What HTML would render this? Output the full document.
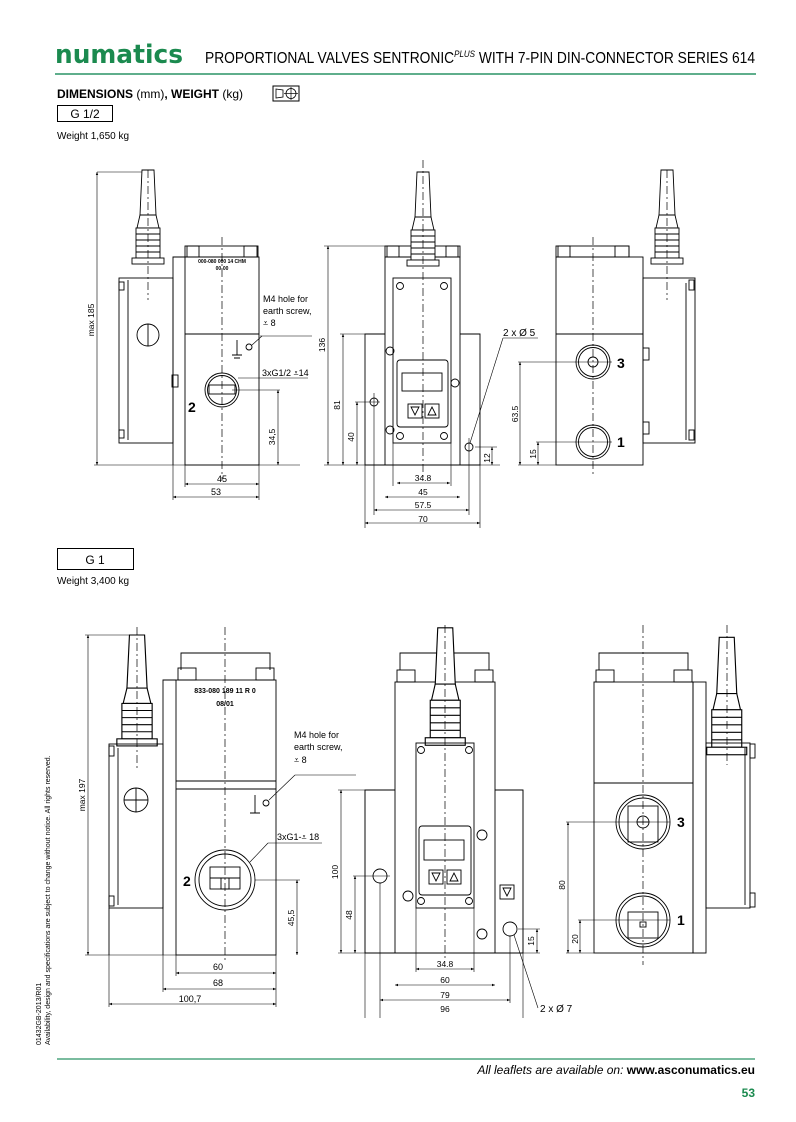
<!DOCTYPE html>
<html><head><meta charset="utf-8"><style>
html,body{margin:0;padding:0;background:#fff}
svg{display:block}
text{font-family:"Liberation Sans",sans-serif}
</style></head><body>
<svg width="796" height="1122" viewBox="0 0 796 1122" xmlns="http://www.w3.org/2000/svg">
<defs>
<marker id="a" markerWidth="6" markerHeight="6" refX="5" refY="3" orient="auto-start-reverse"><path d="M0,1 L5,3 L0,5 z" fill="#000"/></marker>
<g id="conn" fill="#fff" stroke="#000" stroke-width="0.9">
<path d="M-6,0 L6,0 L8,45 L-8,45 z"/>
<path d="M-8,45 L8,45 L11,58 L-11,58 z"/>
<rect x="-12" y="58" width="24" height="30"/>
<line x1="-12" y1="64" x2="12" y2="64"/><line x1="-12" y1="70" x2="12" y2="70"/><line x1="-12" y1="76" x2="12" y2="76"/><line x1="-12" y1="82" x2="12" y2="82"/>
<rect x="-16" y="88" width="32" height="6"/>
</g>
</defs>
<rect width="796" height="1122" fill="#fff"/>
<!-- header -->
<text x="55" y="63" font-size="26" font-weight="bold" fill="#1b8a4f" style="font-family:'DejaVu Sans',sans-serif" textLength="128" lengthAdjust="spacingAndGlyphs">numatics</text>
<text x="205" y="63" font-size="15.5" fill="#000" textLength="550" lengthAdjust="spacingAndGlyphs">PROPORTIONAL VALVES SENTRONIC<tspan font-size="9" font-style="italic" dy="-6">PLUS</tspan><tspan dy="6"> WITH 7-PIN DIN-CONNECTOR SERIES 614</tspan></text>
<line x1="55" y1="74" x2="756" y2="74" stroke="#2a9466" stroke-width="1.5"/>
<text x="57" y="98" font-size="12"><tspan font-weight="bold">DIMENSIONS</tspan> (mm)<tspan font-weight="bold">, WEIGHT</tspan> (kg)</text>
<rect x="273" y="86" width="26" height="15" fill="none" stroke="#000"/>
<path d="M276,89 L283,90 L283,97 L276,98 z" fill="none" stroke="#000" stroke-width="0.8"/><circle cx="291" cy="93.5" r="5" fill="none" stroke="#000" stroke-width="0.8"/><line x1="284" y1="93.5" x2="298" y2="93.5" stroke="#000" stroke-width="0.7"/><line x1="291" y1="87" x2="291" y2="100" stroke="#000" stroke-width="0.7"/>
<rect x="57.5" y="105.5" width="55" height="16" fill="none" stroke="#000"/>
<text x="85" y="118" font-size="12" text-anchor="middle">G 1/2</text>
<text x="57" y="139" font-size="10">Weight 1,650 kg</text>

<g stroke="#000" fill="none" stroke-width="0.9">
<!-- TOP VIEW 1 -->
<use href="#conn" x="148" y="170"/>
<rect x="119" y="278" width="54" height="165"/><line x1="128" y1="280" x2="128" y2="440"/>
<rect x="119" y="282" width="5" height="8"/><rect x="119" y="430" width="5" height="8"/>
<circle cx="148" cy="335" r="11"/><line x1="148" y1="324" x2="148" y2="346"/>
<path d="M173,465 L173,257 L185,257"/>
<rect x="185" y="257" width="74" height="208"/><rect x="187" y="246" width="70" height="11"/>
<rect x="185" y="246" width="14" height="11"/><rect x="244" y="246" width="14" height="11"/>
<line x1="185" y1="334" x2="259" y2="334"/>
<rect x="172" y="375" width="6" height="12"/>
<circle cx="222" cy="390" r="17"/><circle cx="222" cy="390" r="14.5"/><rect x="209" y="385" width="26" height="9"/>
<circle cx="249" cy="347" r="3"/><path d="M237,340 L237,355 M232,355 L242,355 M234,358 L240,358"/>
<line x1="222" y1="237" x2="222" y2="480" stroke-dasharray="8,3,2,3" stroke-width="0.7"/>
<line x1="148" y1="170" x2="148" y2="300" stroke-dasharray="8,3,2,3" stroke-width="0.7"/>
<g stroke-width="0.6">
<line x1="97" y1="172" x2="142" y2="172"/><line x1="94" y1="465" x2="300" y2="465"/>
<line x1="97" y1="172" x2="97" y2="465" marker-start="url(#a)" marker-end="url(#a)"/>
<line x1="232" y1="390" x2="280" y2="390"/><line x1="278" y1="390" x2="278" y2="465" marker-start="url(#a)" marker-end="url(#a)"/>
<line x1="185" y1="465" x2="185" y2="487"/><line x1="259" y1="465" x2="259" y2="500"/><line x1="173" y1="465" x2="173" y2="500"/>
<line x1="185" y1="484" x2="259" y2="484" marker-start="url(#a)" marker-end="url(#a)"/>
<line x1="173" y1="497" x2="259" y2="497" marker-start="url(#a)" marker-end="url(#a)"/>
<line x1="238" y1="378" x2="260" y2="378"/><line x1="260" y1="378" x2="308" y2="378"/>
<line x1="252" y1="345" x2="262" y2="336"/><line x1="260" y1="336" x2="312" y2="336"/>
</g>
<!-- TOP VIEW 2 -->
<rect x="385" y="257" width="75" height="208"/><rect x="387" y="246" width="71" height="11"/>
<rect x="385" y="246" width="14" height="11"/><rect x="446" y="246" width="14" height="11"/>
<path d="M385,334 L365,334 L365,465 L480,465 L480,334 L460,334"/>
<use href="#conn" x="423" y="172"/>
<rect x="393" y="278" width="58" height="165"/>
<circle cx="400" cy="286" r="3.5"/><circle cx="444" cy="286" r="3.5"/><circle cx="400" cy="436" r="3.5"/><circle cx="444" cy="436" r="3.5"/>
<circle cx="390" cy="351" r="4"/><circle cx="390" cy="430" r="4"/><circle cx="455" cy="383" r="4"/>
<rect x="397" y="360" width="51" height="67" rx="3"/><rect x="402" y="373" width="40" height="18"/>
<rect x="408" y="404" width="14" height="14"/><rect x="425" y="404" width="14" height="14"/>
<path d="M411,407 L419,407 L415,415 z M428,415 L436,415 L432,407 z"/>
<circle cx="374" cy="402" r="4"/><circle cx="469" cy="447" r="4"/>
<line x1="423" y1="160" x2="423" y2="480" stroke-dasharray="8,3,2,3" stroke-width="0.7"/>
<g stroke-width="0.6">
<line x1="324" y1="246" x2="385" y2="246"/><line x1="324" y1="465" x2="500" y2="465"/>
<line x1="328" y1="246" x2="328" y2="465" marker-start="url(#a)" marker-end="url(#a)"/>
<line x1="340" y1="334" x2="365" y2="334"/><line x1="343" y1="334" x2="343" y2="465" marker-start="url(#a)" marker-end="url(#a)"/>
<line x1="355" y1="402" x2="380" y2="402"/><line x1="357" y1="402" x2="357" y2="465" marker-start="url(#a)" marker-end="url(#a)"/>
<line x1="374" y1="393" x2="374" y2="515"/><line x1="469" y1="438" x2="469" y2="515"/>
<line x1="393" y1="443" x2="393" y2="486"/><line x1="451" y1="443" x2="451" y2="486"/>
<line x1="365" y1="465" x2="365" y2="528"/><line x1="480" y1="465" x2="480" y2="528"/>
<line x1="397" y1="483" x2="450" y2="483" marker-start="url(#a)" marker-end="url(#a)"/>
<line x1="385" y1="497" x2="460" y2="497" marker-start="url(#a)" marker-end="url(#a)"/>
<line x1="374" y1="510" x2="469" y2="510" marker-start="url(#a)" marker-end="url(#a)"/>
<line x1="365" y1="523" x2="480" y2="523" marker-start="url(#a)" marker-end="url(#a)"/>
<line x1="475" y1="447" x2="497" y2="447"/><line x1="492" y1="447" x2="492" y2="465" marker-start="url(#a)" marker-end="url(#a)"/>
<line x1="470" y1="443" x2="503" y2="338"/><line x1="503" y1="338" x2="538" y2="338"/>
</g>
<!-- TOP VIEW 3 -->
<rect x="556" y="257" width="87" height="208"/><rect x="558" y="246" width="71" height="11"/>
<rect x="556" y="246" width="14" height="11"/><rect x="615" y="246" width="14" height="11"/>
<line x1="556" y1="334" x2="643" y2="334"/>
<use href="#conn" x="667" y="170"/>
<rect x="643" y="278" width="52" height="165"/><line x1="686" y1="283" x2="686" y2="440"/>
<rect x="689" y="280" width="5" height="10"/><rect x="689" y="430" width="5" height="10"/>
<rect x="643" y="348" width="6" height="12"/><rect x="643" y="422" width="6" height="12"/>
<circle cx="593" cy="362" r="17"/><circle cx="593" cy="362" r="14.5"/><circle cx="593" cy="362" r="5"/>
<circle cx="593" cy="442" r="17"/><circle cx="593" cy="442" r="14.5"/>
<line x1="593" y1="237" x2="593" y2="475" stroke-dasharray="8,3,2,3" stroke-width="0.7"/>
<line x1="667" y1="170" x2="667" y2="300" stroke-dasharray="8,3,2,3" stroke-width="0.7"/>
<g stroke-width="0.6">
<line x1="518" y1="362" x2="612" y2="362"/><line x1="518" y1="465" x2="556" y2="465"/>
<line x1="520" y1="362" x2="520" y2="465" marker-start="url(#a)" marker-end="url(#a)"/>
<line x1="536" y1="442" x2="612" y2="442"/><line x1="538" y1="442" x2="538" y2="465" marker-start="url(#a)" marker-end="url(#a)"/>
</g>

<!-- BOTTOM VIEW 1 -->
<use href="#conn" x="137" y="635" transform="translate(-35.6 -114.3) scale(1.26 1.18)" />
<rect x="109" y="744" width="54" height="164"/><line x1="118" y1="748" x2="118" y2="905"/>
<rect x="109" y="746" width="5" height="10"/><rect x="109" y="896" width="5" height="10"/>
<circle cx="136" cy="800" r="12"/><line x1="136" y1="788" x2="136" y2="812"/><line x1="124" y1="800" x2="148" y2="800"/>
<path d="M109,908 L109,955 M163,955 L163,680 L176,680"/>
<rect x="176" y="680" width="100" height="275"/>
<path d="M181,670 L181,653 L270,653 L270,670"/>
<rect x="178" y="668" width="18" height="12"/><rect x="256" y="668" width="18" height="12"/>
<line x1="176" y1="781" x2="276" y2="781"/><line x1="176" y1="789" x2="276" y2="789"/>
<circle cx="225" cy="880" r="30"/><circle cx="225" cy="880" r="26"/>
<rect x="210" y="867" width="30" height="22"/><line x1="210" y1="878" x2="240" y2="878"/><rect x="221" y="878" width="8" height="11"/>
<circle cx="266" cy="803" r="3"/><path d="M255,795 L255,813 M250,813 L260,813"/>
<line x1="225" y1="627" x2="225" y2="960" stroke-dasharray="8,3,2,3" stroke-width="0.7"/>
<line x1="137" y1="627" x2="137" y2="770" stroke-dasharray="8,3,2,3" stroke-width="0.7"/>
<g stroke-width="0.6">
<line x1="85" y1="635" x2="130" y2="635"/><line x1="85" y1="955" x2="176" y2="955"/>
<line x1="88" y1="635" x2="88" y2="955" marker-start="url(#a)" marker-end="url(#a)"/>
<line x1="255" y1="880" x2="300" y2="880"/><line x1="297" y1="880" x2="297" y2="955" marker-start="url(#a)" marker-end="url(#a)"/>
<line x1="276" y1="955" x2="276" y2="1007"/><line x1="176" y1="955" x2="176" y2="976"/><line x1="163" y1="955" x2="163" y2="992"/><line x1="109" y1="955" x2="109" y2="1007"/>
<line x1="176" y1="973" x2="276" y2="973" marker-start="url(#a)" marker-end="url(#a)"/>
<line x1="163" y1="989" x2="276" y2="989" marker-start="url(#a)" marker-end="url(#a)"/>
<line x1="109" y1="1004" x2="276" y2="1004" marker-start="url(#a)" marker-end="url(#a)"/>
<line x1="250" y1="862" x2="268" y2="843"/><line x1="268" y1="843" x2="322" y2="843"/>
<line x1="269" y1="800" x2="295" y2="775"/><line x1="295" y1="775" x2="356" y2="775"/>
</g>
<!-- BOTTOM VIEW 2 -->
<rect x="395" y="682" width="100" height="271"/>
<path d="M400,670 L400,653 L489,653 L489,670"/>
<rect x="397" y="670" width="18" height="12"/><rect x="475" y="670" width="18" height="12"/>
<path d="M395,790 L365,790 L365,953 L523,953 L523,790 L495,790"/>
<use href="#conn" x="445" y="627" transform="translate(-111 -156) scale(1.25 1.25)"/>
<rect x="416" y="743" width="58" height="165"/>
<circle cx="421" cy="750" r="3.5"/><circle cx="469" cy="750" r="3.5"/><circle cx="421" cy="901" r="3.5"/><circle cx="469" cy="901" r="3.5"/>
<circle cx="408" cy="896" r="5"/><circle cx="482" cy="835" r="5"/><circle cx="482" cy="934" r="5"/>
<rect x="419" y="826" width="52" height="69" rx="3"/><rect x="424" y="840" width="40" height="20"/>
<rect x="429" y="870" width="14" height="14"/><rect x="447" y="870" width="14" height="14"/>
<path d="M432,873 L440,873 L436,881 z M450,881 L458,881 L454,873 z"/>
<rect x="500" y="885" width="14" height="14"/><path d="M503,888 L511,888 L507,896 z"/>
<circle cx="380" cy="876" r="7"/><circle cx="510" cy="929" r="7"/>
<line x1="445" y1="625" x2="445" y2="960" stroke-dasharray="8,3,2,3" stroke-width="0.7"/>
<g stroke-width="0.6">
<line x1="338" y1="790" x2="365" y2="790"/><line x1="338" y1="953" x2="540" y2="953"/>
<line x1="341" y1="790" x2="341" y2="953" marker-start="url(#a)" marker-end="url(#a)"/>
<line x1="353" y1="876" x2="390" y2="876"/><line x1="355" y1="876" x2="355" y2="953" marker-start="url(#a)" marker-end="url(#a)"/>
<line x1="518" y1="929" x2="540" y2="929"/><line x1="537" y1="929" x2="537" y2="953" marker-start="url(#a)" marker-end="url(#a)"/>
<line x1="416" y1="908" x2="416" y2="972"/><line x1="474" y1="908" x2="474" y2="972"/>
<line x1="380" y1="883" x2="380" y2="1018"/><line x1="510" y1="936" x2="510" y2="1003"/>
<line x1="365" y1="790" x2="365" y2="1018"/><line x1="523" y1="790" x2="523" y2="1018"/>
<line x1="416" y1="969" x2="474" y2="969" marker-start="url(#a)" marker-end="url(#a)"/>
<line x1="395" y1="985" x2="495" y2="985" marker-start="url(#a)" marker-end="url(#a)"/>
<line x1="380" y1="1000" x2="510" y2="1000" marker-start="url(#a)" marker-end="url(#a)"/>
<line x1="514" y1="935" x2="538" y2="1008"/>
</g>
<!-- BOTTOM VIEW 3 -->
<rect x="594" y="682" width="99" height="271"/>
<path d="M599,670 L599,653 L688,653 L688,670"/>
<rect x="596" y="670" width="18" height="12"/><rect x="674" y="670" width="18" height="12"/>
<line x1="594" y1="783" x2="693" y2="783"/>
<rect x="693" y="682" width="13" height="271"/>
<use href="#conn" x="727" y="637" transform="translate(-182 -159) scale(1.25 1.25)"/>
<rect x="706" y="743" width="44" height="165"/><line x1="745" y1="748" x2="745" y2="905"/>
<rect x="750" y="744" width="5" height="14"/><rect x="750" y="893" width="5" height="14"/>
<circle cx="643" cy="822" r="27"/><circle cx="643" cy="822" r="24"/><rect x="628" y="806" width="30" height="36"/><circle cx="643" cy="822" r="6"/><line x1="637" y1="822" x2="649" y2="822"/>
<circle cx="643" cy="920" r="27"/><circle cx="643" cy="920" r="24"/><rect x="628" y="912" width="30" height="26"/><rect x="640" y="922" width="6" height="5"/>
<line x1="643" y1="625" x2="643" y2="965" stroke-dasharray="8,3,2,3" stroke-width="0.7"/>
<line x1="727" y1="625" x2="727" y2="765" stroke-dasharray="8,3,2,3" stroke-width="0.7"/>
<g stroke-width="0.6">
<line x1="566" y1="822" x2="670" y2="822"/><line x1="566" y1="953" x2="594" y2="953"/>
<line x1="568" y1="822" x2="568" y2="953" marker-start="url(#a)" marker-end="url(#a)"/>
<line x1="578" y1="920" x2="670" y2="920"/><line x1="580" y1="920" x2="580" y2="953" marker-start="url(#a)" marker-end="url(#a)"/>
</g>
</g>

<!-- labels -->
<g font-size="9" fill="#000">
<text x="222" y="263" font-size="5" text-anchor="middle" font-weight="bold">000-080 000 14 CHM</text>
<text x="222" y="270" font-size="5" text-anchor="middle" font-weight="bold">00-00</text>
<text x="263" y="302">M4 hole for</text><text x="263" y="314">earth screw,</text><text x="263" y="326">⩡ 8</text>
<text x="262" y="376">3xG1/2 ⩡14</text>
<text x="188" y="412" font-size="14" font-weight="bold">2</text>
<text x="222" y="482" text-anchor="middle">45</text><text x="216" y="495" text-anchor="middle">53</text>
<text transform="translate(94 320) rotate(-90)" text-anchor="middle" font-size="8.5">max 185</text>
<text transform="translate(275 437) rotate(-90)" text-anchor="middle" font-size="8.5">34,5</text>
<text transform="translate(325 345) rotate(-90)" text-anchor="middle" font-size="8.5">136</text>
<text transform="translate(340 405) rotate(-90)" text-anchor="middle" font-size="8.5">81</text>
<text transform="translate(354 437) rotate(-90)" text-anchor="middle" font-size="8.5">40</text>
<text transform="translate(490 458) rotate(-90)" text-anchor="middle" font-size="8.5">12</text>
<text x="423" y="481" text-anchor="middle" font-size="8.5">34.8</text>
<text x="423" y="495" text-anchor="middle" font-size="8.5">45</text>
<text x="423" y="508" text-anchor="middle" font-size="8.5">57.5</text>
<text x="423" y="522" text-anchor="middle" font-size="8.5">70</text>
<text x="503" y="336" font-size="10">2 x Ø 5</text>
<text x="617" y="368" font-size="14" font-weight="bold">3</text>
<text x="617" y="447" font-size="14" font-weight="bold">1</text>
<text transform="translate(518 414) rotate(-90)" text-anchor="middle" font-size="8.5">63.5</text>
<text transform="translate(536 454) rotate(-90)" text-anchor="middle" font-size="8.5">15</text>
</g>
<rect x="57.5" y="548.5" width="76" height="21" fill="none" stroke="#000"/>
<text x="95" y="564" font-size="12" text-anchor="middle">G 1</text>
<text x="57" y="584" font-size="10">Weight 3,400 kg</text>
<g font-size="9" fill="#000">
<text x="225" y="693" text-anchor="middle" font-size="7" font-weight="bold">833-080  189  11  R  0</text>
<text x="225" y="706" text-anchor="middle" font-size="7" font-weight="bold">08/01</text>
<text x="294" y="738">M4 hole for</text><text x="294" y="750">earth screw,</text><text x="294" y="763">⩡ 8</text>
<text x="277" y="840">3xG1-⩡ 18</text>
<text x="183" y="886" font-size="14" font-weight="bold">2</text>
<text x="218" y="970" text-anchor="middle">60</text><text x="218" y="986" text-anchor="middle">68</text><text x="190" y="1002" text-anchor="middle">100,7</text>
<text transform="translate(85 795) rotate(-90)" text-anchor="middle" font-size="8.5">max 197</text>
<text transform="translate(294 918) rotate(-90)" text-anchor="middle" font-size="8.5">45,5</text>
<text transform="translate(338 872) rotate(-90)" text-anchor="middle" font-size="8.5">100</text>
<text transform="translate(352 915) rotate(-90)" text-anchor="middle" font-size="8.5">48</text>
<text transform="translate(534 941) rotate(-90)" text-anchor="middle" font-size="8.5">15</text>
<text x="445" y="967" text-anchor="middle" font-size="8.5">34.8</text>
<text x="445" y="983" text-anchor="middle" font-size="8.5">60</text>
<text x="445" y="998" text-anchor="middle" font-size="8.5">79</text>
<text x="445" y="1012" text-anchor="middle" font-size="8.5">96</text>
<text x="540" y="1012" font-size="10">2 x Ø 7</text>
<text x="677" y="827" font-size="14" font-weight="bold">3</text>
<text x="677" y="925" font-size="14" font-weight="bold">1</text>
<text transform="translate(565 885) rotate(-90)" text-anchor="middle" font-size="8.5">80</text>
<text transform="translate(578 939) rotate(-90)" text-anchor="middle" font-size="8.5">20</text>
</g>
<text transform="translate(41 1045) rotate(-90)" font-size="7">01432GB-2013/R01</text>
<text transform="translate(50 1045) rotate(-90)" font-size="7">Availability, design and specifications are subject to change without notice. All rights reserved.</text>
<line x1="57" y1="1059" x2="755" y2="1059" stroke="#2a9466" stroke-width="1.2"/>
<text x="755" y="1074" font-size="12" text-anchor="end"><tspan font-style="italic">All leaflets are available on: </tspan><tspan font-weight="bold">www.asconumatics.eu</tspan></text>
<text x="755" y="1097" font-size="12" text-anchor="end" font-weight="bold" fill="#1b8a4f">53</text>
</svg>
</body></html>
